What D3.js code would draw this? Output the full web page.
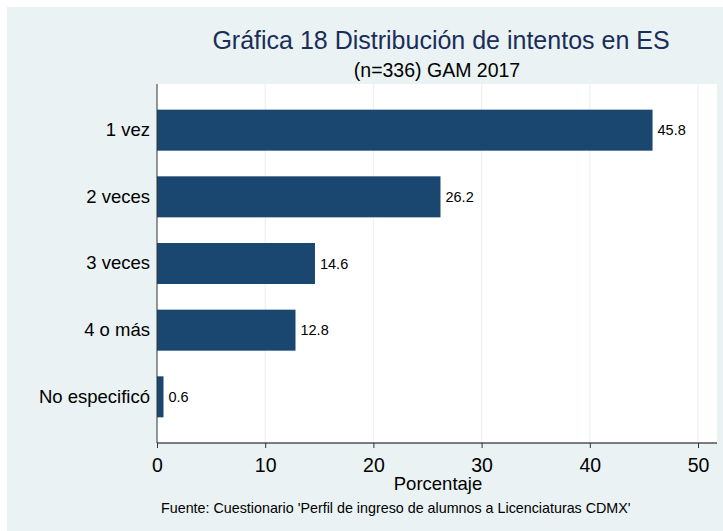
<!DOCTYPE html>
<html>
<head>
<meta charset="utf-8">
<script src="https://cdn.jsdelivr.net/npm/d3@7"></script>
<style>
  body { margin: 0; background: #fff; }
  text { font-family: "Liberation Sans", Arial, sans-serif; }
</style>
</head>
<body>
<div id="chart"></div>
<script>
// Data
var categories = ["1 vez", "2 veces", "3 veces", "4 o más", "No especificó"];
var values = [45.8, 26.2, 14.6, 12.8, 0.6];
var xTicks = [0, 10, 20, 30, 40, 50];

var width = 723, height = 531;
var plot = {left: 157, right: 717, top: 84, bottom: 443};

var svg = d3.select("#chart").append("svg")
  .attr("width", width)
  .attr("height", height);

// Graph region background
svg.append("rect")
  .attr("x", 7).attr("y", 7)
  .attr("width", width - 7).attr("height", height - 7)
  .style("fill", "#eaf2f3");

// Plot region
svg.append("rect")
  .attr("x", plot.left).attr("y", plot.top)
  .attr("width", plot.right - plot.left).attr("height", plot.bottom - plot.top)
  .style("fill", "#fff");

var x = d3.scaleLinear().domain([0, 50]).range([plot.left, 698]);
var y = d3.scaleBand().domain(categories).range([plot.top, plot.bottom]).padding(0.385);

// Grid lines
svg.selectAll(".grid")
  .data(xTicks.slice(1))
  .enter().append("line")
    .attr("class", "grid")
    .attr("x1", function(d) { return x(d); })
    .attr("x2", function(d) { return x(d); })
    .attr("y1", plot.top)
    .attr("y2", plot.bottom)
    .style("stroke", "#eaf2f3")
    .style("stroke-width", 1.2);

// Bars
svg.selectAll(".bar")
  .data(values)
  .enter().append("rect")
    .attr("class", "bar")
    .attr("x", x(0))
    .attr("y", function(d, i) { return y(categories[i]); })
    .attr("width", function(d) { return x(d) - x(0); })
    .attr("height", y.bandwidth())
    .style("fill", "#1a476f");

// Bar labels
svg.selectAll(".label")
  .data(values)
  .enter().append("text")
    .attr("class", "label")
    .attr("x", function(d) { return x(d) + 5; })
    .attr("y", function(d, i) { return y(categories[i]) + y.bandwidth() / 2; })
    .attr("dy", "0.35em")
    .style("font-size", "14.5px")
    .style("fill", "#000")
    .text(function(d) { return d.toFixed(1); });

// Y axis
var yAxis = svg.append("g")
  .attr("transform", "translate(" + plot.left + ",0)")
  .call(d3.axisLeft(y).tickSize(0).tickPadding(7));
yAxis.select(".domain").attr("d", "M0," + plot.top + "V" + plot.bottom).style("stroke", "#333");
yAxis.selectAll("text").style("font-size", "18.5px").style("fill", "#000");

// X axis
var xAxis = svg.append("g")
  .attr("transform", "translate(0," + plot.bottom + ")")
  .call(d3.axisBottom(x).tickValues(xTicks).tickSize(5).tickPadding(4));
xAxis.select(".domain").attr("d", "M" + plot.left + ",0H" + plot.right).style("stroke", "#000");
xAxis.selectAll(".tick line").style("stroke", "#333");
xAxis.selectAll("text")
  .attr("y", 29).attr("dy", null)
  .style("font-size", "19.5px").style("fill", "#000");

// Titles
var cx = (plot.left + plot.right) / 2;
svg.append("text")
  .attr("x", cx + 4).attr("y", 49)
  .attr("text-anchor", "middle")
  .style("font-size", "25px")
  .style("fill", "#1a2e5a")
  .text("Gráfica 18 Distribución de intentos en ES");

svg.append("text")
  .attr("x", cx).attr("y", 77)
  .attr("text-anchor", "middle")
  .style("font-size", "19.5px")
  .style("fill", "#000")
  .text("(n=336) GAM 2017");

svg.append("text")
  .attr("x", cx + 1).attr("y", 490)
  .attr("text-anchor", "middle")
  .style("font-size", "18.5px")
  .style("fill", "#000")
  .text("Porcentaje");

svg.append("text")
  .attr("x", 161).attr("y", 513)
  .style("font-size", "14.3px")
  .style("fill", "#000")
  .text("Fuente: Cuestionario 'Perfil de ingreso de alumnos a Licenciaturas CDMX'");
</script>
</body>
</html>
